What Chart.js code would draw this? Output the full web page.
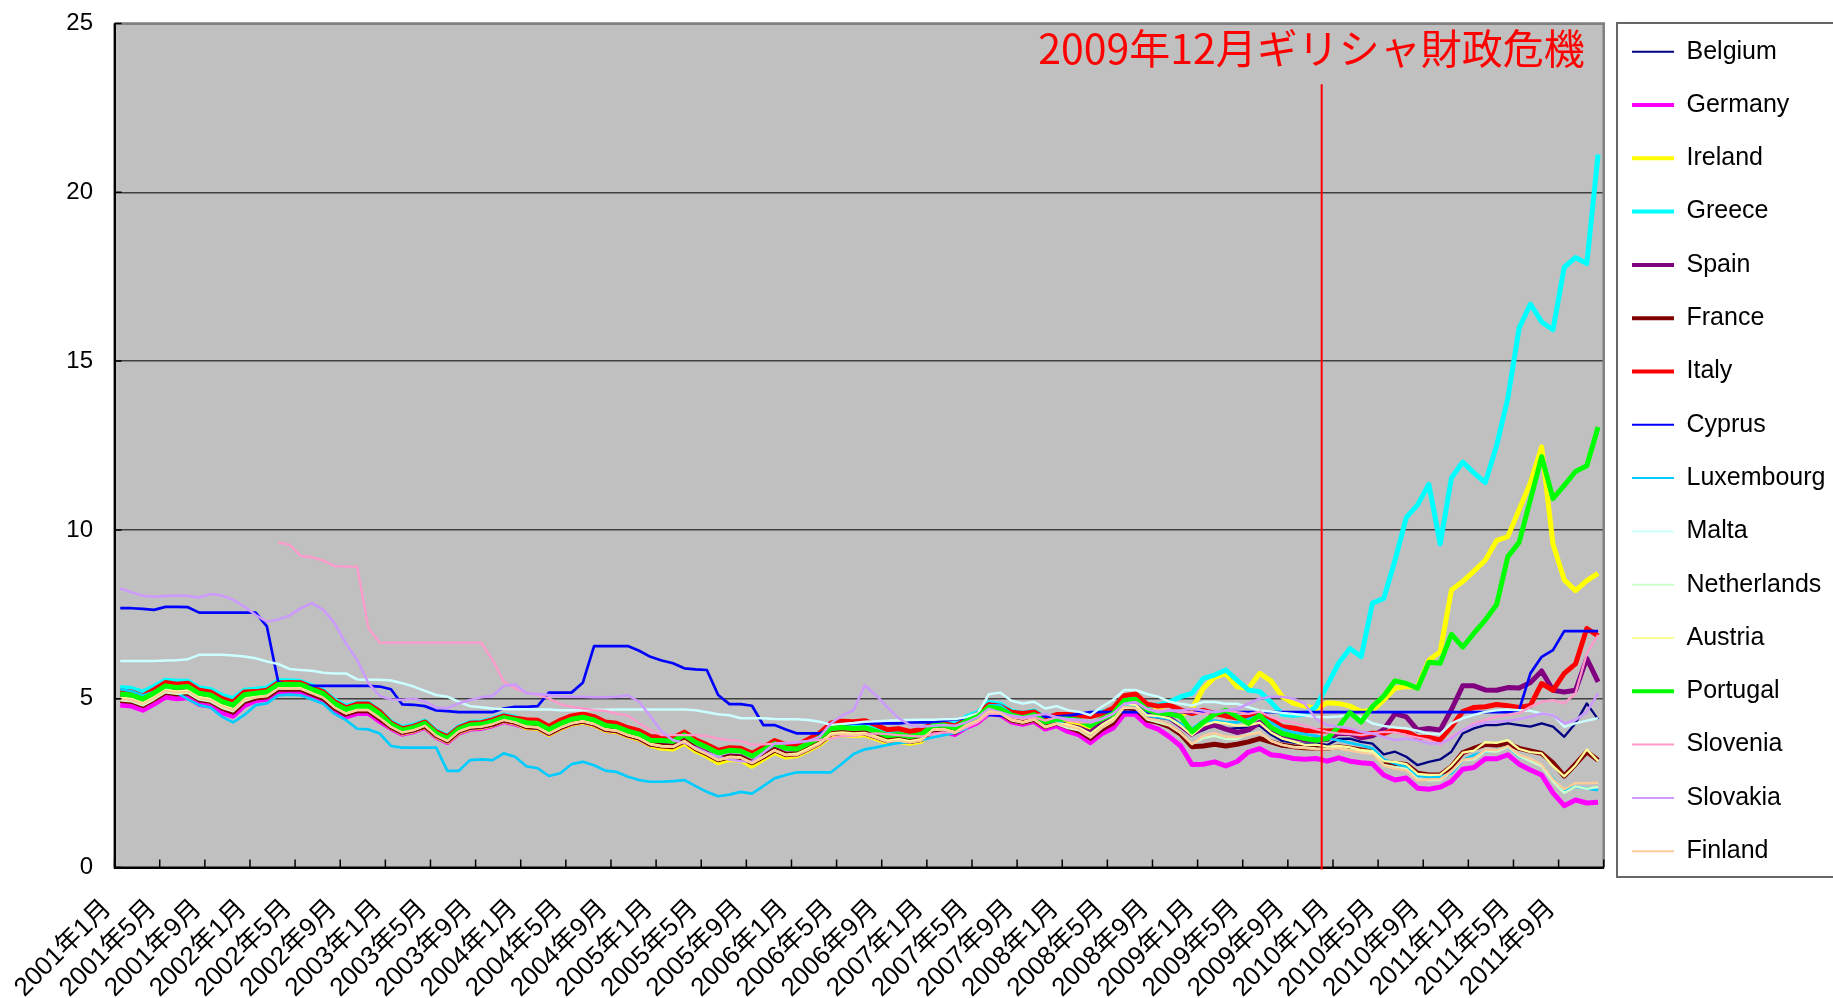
<!DOCTYPE html>
<html>
<head>
<meta charset="utf-8">
<script src="https://cdn.jsdelivr.net/npm/chart.js@4.4.1/dist/chart.umd.min.js"></script>
<style>
html,body{margin:0;padding:0;background:#ffffff;overflow:hidden}
canvas{display:block}
</style>
</head>
<body>
<canvas id="c" width="1833" height="998"></canvas>
<script>
// ---- categories / tick labels ----
const years = [2001,2002,2003,2004,2005,2006,2007,2008,2009,2010,2011];
const months = [1,2,3,4,5,6,7,8,9,10,11,12];
const categories = [];
years.forEach(y => months.forEach(m => categories.push(y + '年' + m + '月')));
const labelEvery = 4;
const yTicks = [0,5,10,15,20,25];
const crisisMonth = '2009年12月';
const crisisLabel = '2009年12月ギリシャ財政危機';

// ---- series (monthly, 2001/1 - 2011/12) ----
const belgium = [
5.06,5.03,4.91,5.09,5.30,5.25,5.28,5.08,5.03,4.84,4.73,5.04,
5.12,5.16,5.38,5.39,5.38,5.24,5.11,4.82,4.64,4.74,4.74,4.51,
4.20,4.03,4.10,4.23,3.94,3.78,4.06,4.18,4.20,4.28,4.40,4.33,
4.19,4.17,3.99,4.16,4.29,4.35,4.27,4.11,4.07,3.94,3.85,3.67,
3.61,3.59,3.76,3.53,3.38,3.20,3.29,3.27,3.11,3.29,3.49,3.35,
3.38,3.54,3.71,3.98,4.01,3.98,4.00,3.89,3.77,3.81,3.75,3.81,
4.12,4.14,4.04,4.25,4.39,4.67,4.62,4.41,4.34,4.43,4.20,4.30,
4.28,4.20,4.02,4.29,4.48,4.88,4.87,4.55,4.51,4.42,4.26,3.96,
4.07,4.22,4.10,4.13,4.15,4.20,3.94,3.75,3.70,3.66,3.68,3.63,
3.81,3.82,3.72,3.67,3.35,3.43,3.28,3.03,3.13,3.20,3.43,3.97,
4.12,4.22,4.22,4.27,4.22,4.17,4.27,4.17,3.87,4.27,4.86,4.39];
const germany = [
4.81,4.78,4.66,4.84,5.05,5.00,5.03,4.83,4.78,4.59,4.48,4.79,
4.94,4.98,5.20,5.21,5.20,5.06,4.93,4.64,4.46,4.56,4.56,4.33,
4.12,3.95,4.02,4.15,3.86,3.70,3.98,4.10,4.12,4.20,4.32,4.25,
4.14,4.12,3.94,4.11,4.24,4.30,4.22,4.06,4.02,3.89,3.80,3.62,
3.58,3.56,3.73,3.50,3.35,3.17,3.26,3.24,3.08,3.26,3.46,3.32,
3.33,3.49,3.66,3.93,3.96,3.93,3.95,3.84,3.72,3.76,3.70,3.76,
4.02,4.04,3.94,4.15,4.29,4.57,4.52,4.31,4.24,4.33,4.10,4.20,
4.03,3.93,3.70,3.96,4.13,4.55,4.53,4.22,4.10,3.87,3.60,3.05,
3.06,3.13,3.01,3.14,3.42,3.52,3.34,3.30,3.23,3.21,3.23,3.15,
3.25,3.15,3.10,3.07,2.74,2.59,2.65,2.35,2.32,2.38,2.55,2.91,
2.96,3.22,3.22,3.34,3.06,2.89,2.74,2.21,1.83,2.00,1.91,1.93];
const ireland = [
4.96,4.93,4.81,4.99,5.20,5.15,5.18,4.98,4.93,4.74,4.63,4.94,
5.04,5.08,5.30,5.31,5.30,5.16,5.03,4.74,4.56,4.66,4.66,4.43,
4.15,3.98,4.05,4.18,3.89,3.73,4.01,4.13,4.15,4.23,4.35,4.28,
4.14,4.12,3.94,4.11,4.24,4.30,4.22,4.06,4.02,3.89,3.80,3.62,
3.53,3.51,3.68,3.45,3.30,3.10,3.20,3.18,3.00,3.21,3.41,3.27,
3.31,3.47,3.64,3.91,3.94,3.91,3.93,3.82,3.70,3.74,3.68,3.74,
4.08,4.10,4.00,4.21,4.35,4.63,4.58,4.37,4.30,4.39,4.18,4.30,
4.28,4.23,4.14,4.40,4.55,4.97,4.98,4.69,4.67,4.60,4.51,4.70,
5.30,5.63,5.75,5.35,5.30,5.75,5.53,5.06,4.86,4.78,4.71,4.88,
4.86,4.78,4.62,4.66,4.96,5.31,5.36,5.35,6.14,6.39,8.22,8.47,
8.78,9.10,9.68,9.80,10.60,11.40,12.46,9.58,8.52,8.20,8.50,8.71];
const greece = [
5.33,5.30,5.20,5.36,5.55,5.52,5.52,5.32,5.27,5.10,5.00,5.25,
5.28,5.32,5.53,5.53,5.51,5.38,5.24,4.96,4.78,4.87,4.87,4.63,
4.32,4.15,4.22,4.34,4.05,3.90,4.17,4.30,4.32,4.40,4.52,4.45,
4.34,4.32,4.14,4.31,4.45,4.52,4.43,4.27,4.22,4.10,4.02,3.85,
3.82,3.80,3.96,3.75,3.60,3.42,3.50,3.48,3.32,3.50,3.72,3.57,
3.60,3.76,3.93,4.20,4.24,4.21,4.23,4.12,4.00,4.04,3.97,4.04,
4.32,4.33,4.25,4.46,4.59,4.89,4.84,4.63,4.57,4.64,4.43,4.52,
4.49,4.49,4.56,4.60,4.68,5.00,5.01,4.80,4.81,4.90,5.06,5.16,
5.60,5.70,5.85,5.55,5.26,5.21,4.90,4.54,4.51,4.54,4.76,5.40,
6.05,6.49,6.24,7.83,7.97,9.10,10.37,10.74,11.35,9.58,11.54,12.01,
11.69,11.40,12.49,13.90,15.98,16.69,16.16,15.93,17.78,18.07,17.89,21.12];
const spain = [
5.11,5.08,4.96,5.14,5.35,5.30,5.33,5.13,5.08,4.89,4.78,5.09,
5.09,5.13,5.35,5.36,5.35,5.21,5.08,4.79,4.61,4.71,4.71,4.48,
4.17,4.00,4.07,4.20,3.91,3.75,4.03,4.15,4.17,4.25,4.37,4.30,
4.17,4.15,3.97,4.14,4.27,4.33,4.25,4.09,4.05,3.92,3.83,3.65,
3.62,3.60,3.77,3.54,3.39,3.21,3.30,3.28,3.12,3.30,3.50,3.36,
3.36,3.52,3.69,3.96,3.99,3.96,3.98,3.87,3.75,3.79,3.73,3.79,
4.10,4.12,4.02,4.23,4.37,4.65,4.60,4.39,4.32,4.41,4.18,4.30,
4.20,4.13,4.00,4.28,4.40,4.83,4.83,4.52,4.48,4.43,4.20,3.95,
4.14,4.22,4.10,4.00,4.07,4.30,4.05,3.94,3.85,3.78,3.78,3.80,
3.98,3.97,3.84,3.90,4.08,4.56,4.46,4.07,4.12,4.07,4.68,5.38,
5.38,5.26,5.25,5.33,5.32,5.48,5.82,5.25,5.20,5.25,6.19,5.50];
const france = [
4.95,4.92,4.80,4.98,5.19,5.14,5.17,4.97,4.92,4.73,4.60,4.91,
5.02,5.06,5.28,5.29,5.28,5.14,5.01,4.72,4.54,4.64,4.64,4.41,
4.16,4.01,4.08,4.19,3.93,3.76,4.04,4.16,4.19,4.24,4.37,4.31,
4.18,4.16,3.98,4.15,4.28,4.34,4.26,4.10,4.06,3.93,3.84,3.66,
3.60,3.58,3.75,3.52,3.37,3.19,3.28,3.26,3.10,3.28,3.48,3.34,
3.37,3.53,3.70,3.97,4.00,3.97,3.99,3.88,3.76,3.80,3.74,3.80,
4.08,4.10,4.00,4.21,4.35,4.63,4.58,4.37,4.30,4.39,4.17,4.28,
4.16,4.04,3.83,4.09,4.28,4.73,4.70,4.37,4.30,4.17,3.95,3.58,
3.60,3.65,3.60,3.65,3.72,3.82,3.72,3.62,3.58,3.55,3.53,3.53,
3.58,3.53,3.48,3.42,3.13,3.08,3.05,2.79,2.74,2.74,2.98,3.40,
3.53,3.65,3.63,3.67,3.53,3.45,3.38,3.10,2.71,3.06,3.43,3.18];
const italy = [
5.23,5.20,5.08,5.27,5.48,5.43,5.46,5.25,5.20,5.01,4.90,5.20,
5.21,5.25,5.47,5.48,5.47,5.33,5.20,4.91,4.73,4.84,4.84,4.62,
4.28,4.11,4.18,4.31,4.02,3.87,4.14,4.27,4.29,4.37,4.49,4.42,
4.38,4.36,4.18,4.36,4.49,4.55,4.47,4.31,4.27,4.14,4.05,3.88,
3.86,3.84,4.01,3.78,3.64,3.47,3.55,3.53,3.38,3.56,3.76,3.64,
3.63,3.80,3.98,4.28,4.33,4.32,4.35,4.22,4.08,4.11,4.03,4.09,
4.26,4.26,4.19,4.39,4.54,4.82,4.78,4.60,4.56,4.61,4.42,4.53,
4.53,4.50,4.47,4.56,4.72,5.09,5.14,4.84,4.78,4.81,4.67,4.56,
4.66,4.56,4.49,4.43,4.46,4.61,4.37,4.17,4.13,4.06,4.05,4.04,
4.06,4.02,3.93,3.98,3.97,4.08,4.04,3.85,3.85,3.78,4.17,4.62,
4.74,4.76,4.83,4.79,4.74,4.80,5.45,5.25,5.75,6.03,7.08,6.86];
const cyprus = [
7.68,7.68,7.66,7.63,7.72,7.72,7.71,7.55,7.55,7.55,7.55,7.55,
7.55,7.14,5.50,5.38,5.38,5.38,5.38,5.38,5.38,5.38,5.38,5.36,
5.28,4.83,4.82,4.78,4.65,4.63,4.60,4.60,4.60,4.60,4.71,4.76,
4.76,4.78,5.18,5.18,5.18,5.47,6.56,6.56,6.56,6.56,6.42,6.24,
6.13,6.05,5.90,5.87,5.85,5.11,4.84,4.84,4.79,4.22,4.22,4.09,
3.97,3.97,3.97,4.12,4.22,4.27,4.27,4.27,4.27,4.27,4.30,4.30,
4.30,4.35,4.39,4.42,4.47,4.52,4.50,4.47,4.47,4.47,4.47,4.47,
4.50,4.55,4.60,4.60,4.60,4.60,4.60,4.60,4.60,4.60,4.60,4.60,
4.60,4.60,4.60,4.60,4.60,4.60,4.60,4.60,4.60,4.60,4.60,4.60,
4.60,4.60,4.60,4.60,4.60,4.60,4.60,4.60,4.60,4.60,4.60,4.60,
4.60,4.60,4.60,4.60,4.66,5.75,6.24,6.44,7.00,7.00,7.00,7.00];
const luxembourg = [
5.28,5.22,5.10,5.20,5.30,5.18,4.98,4.81,4.74,4.47,4.30,4.52,
4.81,4.86,5.10,5.12,5.10,4.98,4.85,4.55,4.37,4.11,4.09,3.97,
3.60,3.55,3.55,3.55,3.55,2.86,2.86,3.18,3.20,3.18,3.38,3.28,
3.00,2.94,2.71,2.79,3.06,3.13,3.03,2.87,2.83,2.69,2.59,2.54,
2.54,2.56,2.59,2.41,2.24,2.11,2.16,2.24,2.19,2.41,2.64,2.74,
2.82,2.82,2.82,2.82,3.08,3.36,3.50,3.56,3.63,3.69,3.72,3.77,
3.85,3.92,3.99,4.12,4.45,4.80,4.80,4.55,4.45,4.50,4.28,4.35,
4.20,4.12,3.95,4.20,4.40,4.80,4.80,4.50,4.45,4.40,4.25,4.10,
4.35,4.35,4.30,4.30,4.40,4.50,4.30,4.10,4.00,3.95,3.90,3.82,
3.77,3.69,3.62,3.53,3.20,3.08,2.98,2.71,2.69,2.69,2.79,3.18,
3.33,3.43,3.48,3.58,3.28,3.18,3.03,2.64,2.29,2.39,2.34,2.29];
const malta = [
6.12,6.12,6.12,6.12,6.13,6.14,6.17,6.30,6.30,6.30,6.28,6.25,
6.20,6.10,6.03,5.88,5.85,5.83,5.77,5.75,5.75,5.57,5.56,5.56,
5.54,5.46,5.36,5.23,5.11,5.06,4.91,4.78,4.75,4.71,4.69,4.69,
4.69,4.68,4.68,4.66,4.66,4.66,4.67,4.67,4.68,4.68,4.68,4.68,
4.68,4.68,4.68,4.66,4.60,4.54,4.51,4.42,4.42,4.42,4.40,4.39,
4.39,4.37,4.32,4.22,4.25,4.28,4.32,4.33,4.35,4.36,4.37,4.38,
4.38,4.39,4.40,4.45,4.56,5.13,5.18,4.94,4.86,4.91,4.71,4.78,
4.66,4.61,4.51,4.76,4.96,5.26,5.26,5.14,5.06,4.91,4.85,4.80,
4.90,4.90,4.85,4.85,4.75,4.65,4.62,4.58,4.55,4.51,4.46,4.45,
4.47,4.52,4.45,4.27,4.19,4.15,4.12,4.05,3.97,3.95,4.27,4.42,
4.52,4.61,4.66,4.68,4.66,4.64,4.56,4.52,4.17,4.27,4.35,4.42];
const netherlands = [
4.95,4.92,4.80,4.98,5.19,5.14,5.17,4.97,4.92,4.73,4.62,4.93,
5.04,5.08,5.30,5.31,5.30,5.16,5.03,4.74,4.56,4.66,4.66,4.43,
4.17,4.00,4.07,4.20,3.91,3.75,4.03,4.15,4.17,4.25,4.37,4.30,
4.17,4.15,3.97,4.14,4.27,4.33,4.25,4.09,4.05,3.92,3.83,3.65,
3.59,3.57,3.74,3.51,3.36,3.18,3.27,3.25,3.09,3.27,3.47,3.33,
3.35,3.51,3.68,3.95,3.98,3.95,3.97,3.86,3.74,3.78,3.72,3.78,
4.07,4.09,3.99,4.20,4.34,4.62,4.57,4.36,4.29,4.38,4.15,4.25,
4.13,4.06,3.85,4.13,4.33,4.74,4.72,4.39,4.30,4.20,3.98,3.66,
3.83,3.90,3.80,3.80,3.96,4.00,3.75,3.63,3.57,3.56,3.53,3.52,
3.55,3.48,3.44,3.40,3.04,2.97,2.92,2.62,2.58,2.59,2.84,3.18,
3.20,3.45,3.43,3.57,3.30,3.15,3.00,2.55,2.21,2.40,2.33,2.39];
const austria = [
5.03,5.00,4.88,5.06,5.27,5.22,5.25,5.05,5.00,4.81,4.70,5.01,
5.09,5.13,5.35,5.36,5.35,5.21,5.08,4.79,4.61,4.71,4.71,4.48,
4.19,4.02,4.09,4.22,3.93,3.77,4.05,4.17,4.19,4.27,4.39,4.32,
4.18,4.16,3.98,4.15,4.28,4.34,4.26,4.10,4.06,3.93,3.84,3.66,
3.60,3.58,3.75,3.52,3.37,3.19,3.28,3.26,3.10,3.28,3.48,3.34,
3.37,3.53,3.70,3.97,4.00,3.97,3.99,3.88,3.76,3.80,3.74,3.80,
4.09,4.11,4.01,4.22,4.36,4.64,4.59,4.38,4.31,4.40,4.17,4.27,
4.24,4.14,3.96,4.22,4.42,4.85,4.82,4.51,4.49,4.42,4.20,3.92,
4.20,4.31,4.27,4.20,4.21,4.29,4.00,3.82,3.73,3.63,3.64,3.58,
3.60,3.56,3.48,3.45,3.15,3.13,3.06,2.77,2.74,2.75,3.02,3.40,
3.46,3.71,3.69,3.77,3.51,3.42,3.38,3.00,2.70,3.03,3.50,3.15];
const portugal = [
5.14,5.11,4.99,5.17,5.38,5.33,5.36,5.16,5.11,4.92,4.81,5.12,
5.16,5.20,5.42,5.43,5.42,5.28,5.15,4.86,4.68,4.78,4.78,4.55,
4.24,4.07,4.14,4.27,3.98,3.82,4.10,4.22,4.24,4.32,4.44,4.37,
4.29,4.27,4.09,4.26,4.39,4.45,4.37,4.21,4.17,4.04,3.95,3.77,
3.76,3.74,3.93,3.71,3.56,3.39,3.47,3.45,3.30,3.48,3.67,3.53,
3.51,3.67,3.85,4.12,4.15,4.12,4.14,4.03,3.90,3.94,3.88,3.94,
4.20,4.22,4.13,4.34,4.47,4.75,4.70,4.51,4.44,4.53,4.31,4.40,
4.40,4.36,4.20,4.40,4.55,4.95,4.98,4.68,4.58,4.55,4.47,4.02,
4.30,4.54,4.66,4.47,4.27,4.51,4.15,3.97,3.89,3.82,3.77,3.82,
4.17,4.59,4.31,4.77,5.08,5.53,5.45,5.31,6.08,6.05,6.91,6.53,
6.94,7.33,7.78,9.21,9.63,10.90,12.17,10.93,11.32,11.73,11.90,13.05];
const slovenia = [
null,null,null,null,null,null,null,null,null,null,null,null,
null,null,9.63,9.56,9.23,9.19,9.09,8.93,8.91,8.91,7.09,6.66,
6.66,6.66,6.66,6.66,6.66,6.66,6.66,6.66,6.66,6.15,5.50,5.31,
5.18,5.11,5.01,4.84,4.76,4.71,4.66,4.64,4.56,4.50,4.27,4.07,
3.92,3.92,3.92,3.92,3.89,3.82,3.77,3.75,3.63,3.65,3.67,3.70,
3.72,3.75,3.78,3.82,3.90,3.90,3.95,3.97,3.95,3.92,3.90,3.88,
3.95,4.00,4.00,4.15,4.30,4.55,4.55,4.45,4.40,4.45,4.35,4.45,
4.35,4.30,4.30,4.40,4.55,4.85,4.90,4.70,4.65,4.65,4.60,4.60,
4.55,4.62,4.66,4.60,4.55,4.62,4.45,4.35,4.30,4.20,4.10,4.02,
3.97,3.95,3.92,3.97,4.02,4.00,3.92,3.85,3.78,3.63,3.87,4.07,
4.27,4.37,4.47,4.52,4.57,4.76,4.91,4.96,4.86,5.16,6.34,6.89];
const slovakia = [
8.27,8.15,8.05,8.02,8.04,8.06,8.04,8.00,8.10,8.06,7.93,7.73,
7.48,7.28,7.35,7.46,7.68,7.83,7.63,7.23,6.64,6.15,5.46,5.08,
4.98,4.96,5.01,4.91,4.74,4.72,4.86,4.96,5.04,5.08,5.38,5.42,
5.16,5.14,5.11,5.08,5.06,5.06,5.04,5.04,5.06,5.10,4.91,4.47,
4.02,3.77,3.69,3.55,3.40,3.28,3.20,3.15,3.13,3.40,3.67,3.67,
3.70,3.75,3.87,4.27,4.50,4.66,5.40,5.10,4.75,4.42,4.22,4.17,
4.20,4.22,4.20,4.30,4.45,4.70,4.60,4.50,4.45,4.50,4.55,4.45,
4.40,4.38,4.30,4.40,4.55,4.85,4.90,4.70,4.60,4.65,4.65,4.70,
4.65,4.60,4.65,4.70,4.85,5.00,5.06,5.06,5.00,4.85,4.40,4.22,
4.17,4.12,4.02,3.97,3.87,3.77,3.82,3.77,3.67,3.67,3.82,4.07,
4.22,4.29,4.32,4.35,4.39,4.47,4.56,4.51,4.27,4.37,4.61,5.16];
const finland = [
4.99,4.96,4.84,5.02,5.23,5.18,5.21,5.01,4.96,4.77,4.66,4.97,
5.04,5.08,5.30,5.31,5.30,5.16,5.03,4.74,4.56,4.66,4.66,4.43,
4.17,4.00,4.07,4.20,3.91,3.75,4.03,4.15,4.17,4.25,4.37,4.30,
4.17,4.15,3.97,4.14,4.27,4.33,4.25,4.09,4.05,3.92,3.83,3.65,
3.59,3.57,3.74,3.51,3.36,3.18,3.27,3.25,3.09,3.27,3.47,3.33,
3.33,3.49,3.66,3.93,3.96,3.93,3.95,3.84,3.72,3.76,3.70,3.76,
4.08,4.10,4.00,4.21,4.35,4.63,4.58,4.37,4.30,4.39,4.16,4.26,
4.19,4.10,3.87,4.15,4.35,4.76,4.73,4.42,4.36,4.22,4.00,3.65,
3.90,3.98,3.88,3.86,3.93,4.00,3.75,3.63,3.56,3.54,3.50,3.50,
3.53,3.46,3.40,3.36,3.02,2.93,2.88,2.58,2.60,2.62,2.85,3.19,
3.24,3.49,3.48,3.60,3.34,3.22,3.05,2.62,2.32,2.50,2.50,2.51];

const seriesNames = ['Belgium','Germany','Ireland','Greece','Spain','France','Italy','Cyprus',
  'Luxembourg','Malta','Netherlands','Austria','Portugal','Slovenia','Slovakia','Finland'];
const seriesData = [belgium,germany,ireland,greece,spain,france,italy,cyprus,
  luxembourg,malta,netherlands,austria,portugal,slovenia,slovakia,finland];

// ---- styles ----
const seriesColors = ['#000080','#FF00FF','#FFFF00','#00FFFF','#800080','#800000','#FF0000','#0000FF',
  '#00CCFF','#CCFFFF','#CCFFCC','#FFFF99','#00FF00','#FF99CC','#CC99FF','#FFCC99'];
const seriesWidths = [2.3,5,5,5,5,5,5,2.7,2.7,2.5,2.3,2.3,5,2.3,2.5,2.3];
const legendWidths = [2,4,4,4,4,4,4,2,2,2,2,2,4,2,2,2];

const FONT = "'Liberation Sans', 'Noto Sans CJK JP', sans-serif";
Chart.defaults.font.family = FONT;
Chart.defaults.color = '#000000';

const decor = {
  id: 'decor',
  beforeDraw(chart) {
    const {ctx, chartArea: a} = chart;
    ctx.save();
    ctx.fillStyle = '#C0C0C0';
    ctx.fillRect(a.left, a.top, a.right - a.left, a.bottom - a.top);
    ctx.restore();
  },
  afterDatasetsDraw(chart) {
    const {ctx, chartArea: a, scales: {x, y}} = chart;
    const step = x.getPixelForValue(1) - x.getPixelForValue(0);
    const x0 = x.getPixelForValue(0) - step / 2;
    ctx.save();
    ctx.strokeStyle = '#808080';
    ctx.lineWidth = 2.5;
    ctx.beginPath();
    ctx.moveTo(a.left, a.top);
    ctx.lineTo(a.right, a.top);
    ctx.lineTo(a.right, a.bottom);
    ctx.stroke();
    ctx.strokeStyle = '#000000';
    ctx.lineWidth = 2;
    ctx.beginPath();
    ctx.moveTo(a.left, a.top);
    ctx.lineTo(a.left, a.bottom);
    ctx.lineTo(a.right, a.bottom);
    ctx.stroke();
    ctx.lineWidth = 1.5;
    ctx.beginPath();
    for (let k = 0; k <= categories.length; k += labelEvery) {
      const px = x0 + k * step;
      ctx.moveTo(px, a.bottom);
      ctx.lineTo(px, a.bottom - 8);
    }
    yTicks.forEach(v => {
      const py = y.getPixelForValue(v);
      ctx.moveTo(a.left, py);
      ctx.lineTo(a.left + 7, py);
    });
    ctx.stroke();
    const ci = categories.indexOf(crisisMonth);
    const lx = x.getPixelForValue(ci) - step / 2;
    ctx.strokeStyle = '#FF0000';
    ctx.lineWidth = 2;
    ctx.beginPath();
    ctx.moveTo(lx, y.getPixelForValue(23.2));
    ctx.lineTo(lx, a.bottom + 2);
    ctx.stroke();
    ctx.fillStyle = '#FF0000';
    ctx.font = "41px 'Noto Sans CJK JP', 'Liberation Sans', sans-serif";
    ctx.textAlign = 'right';
    ctx.textBaseline = 'middle';
    ctx.fillText(crisisLabel, a.right - 19, a.top + 25);
    ctx.restore();
  },
  afterDraw(chart) {
    const {ctx, chartArea: a} = chart;
    const lg = chart.legend;
    const bx = lg.left + lg.options.labels.padding - 15;
    ctx.save();
    ctx.strokeStyle = '#666666';
    ctx.lineWidth = 2;
    ctx.strokeRect(bx, a.top - 0.5, chart.width - bx + 10, a.bottom + 9.5 - (a.top - 0.5));
    ctx.restore();
  }
};

const datasets = seriesNames.map((name, i) => ({
  label: name,
  data: seriesData[i],
  borderColor: seriesColors[i],
  backgroundColor: seriesColors[i],
  borderWidth: seriesWidths[i],
  pointRadius: 0,
  pointHoverRadius: 0,
  tension: 0,
  borderJoinStyle: 'round',
  borderCapStyle: 'butt',
  spanGaps: false,
  order: seriesNames.length - i
}));

new Chart(document.getElementById('c'), {
  type: 'line',
  data: { labels: categories, datasets },
  options: {
    responsive: false,
    animation: false,
    devicePixelRatio: 1,
    layout: { padding: { top: 10.9, right: -2.5, bottom: 0, left: 0 } },
    plugins: {
      tooltip: { enabled: false },
      legend: {
        position: 'right',
        align: 'start',
        labels: {
          usePointStyle: true,
          pointStyle: 'line',
          pointStyleWidth: 42,
          padding: 28.3,
          color: '#000000',
          font: { size: 25, family: FONT },
          sort: (a, b) => a.datasetIndex - b.datasetIndex,
          generateLabels(chart) {
            const items = Chart.defaults.plugins.legend.labels.generateLabels(chart);
            items.forEach(it => { it.lineWidth = legendWidths[it.datasetIndex]; });
            return items;
          }
        }
      }
    },
    scales: {
      x: {
        type: 'category',
        offset: true,
        afterFit(scale) { scale.height = 130.5; },
        grid: { display: true, drawOnChartArea: false, drawTicks: true, tickLength: 26,
                color: 'transparent', tickColor: 'transparent' },
        border: { display: true, color: '#000000', width: 2 },
        ticks: {
          autoSkip: false,
          maxRotation: 45,
          minRotation: 45,
          padding: 0,
          labelOffset: -13,
          color: '#000000',
          font: { size: 26, family: FONT },
          callback: (v, idx) => (idx % labelEvery === 0 ? categories[idx] : '')
        }
      },
      y: {
        min: 0,
        max: 25,
        afterFit(scale) { scale.width = 114.6; },
        grid: {
          drawTicks: true,
          tickLength: 21.6,
          tickColor: 'transparent',
          color: c => (c.tick.value === 25 ? '#808080' : (c.tick.value === 0 ? '#000000' : '#404040')),
          lineWidth: c => (c.tick.value === 25 || c.tick.value === 0 ? 2 : 1.5)
        },
        border: { display: true, color: '#000000', width: 2 },
        ticks: {
          stepSize: 5,
          padding: 0,
          color: '#000000',
          font: { size: 24, family: FONT, lineHeight: 47 / 24 }
        }
      }
    }
  },
  plugins: [decor]
});
</script>
</body>
</html>
